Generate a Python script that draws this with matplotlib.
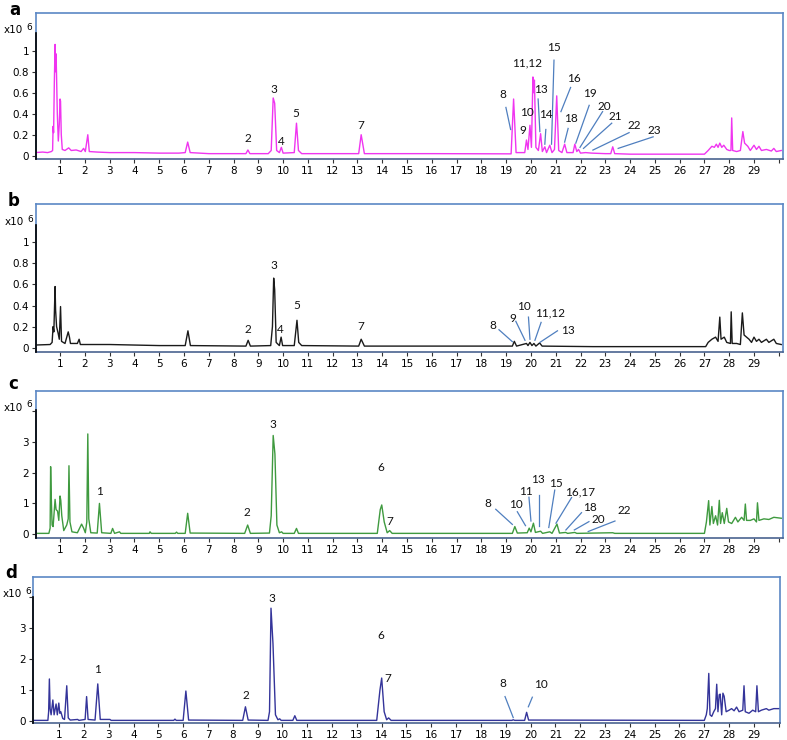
import numpy as np
import matplotlib.pyplot as plt

# retention time (min) and intensity (x10^6)
a_t = [0.0, 0.3, 0.5, 0.65, 0.70, 0.72, 0.74, 0.77, 0.80, 0.82, 0.84, 0.86, 0.89, 0.93, 0.97, 1.00, 1.02,
       1.05, 1.09, 1.2, 1.35, 1.45, 1.65, 1.85, 1.95, 2.02, 2.12, 2.18, 2.5, 3.0, 4.0, 5.0, 5.8, 6.05, 6.15,
       6.25, 7.0, 8.0, 8.5, 8.58, 8.66, 9.4, 9.52, 9.6, 9.66, 9.74, 9.85, 9.93, 10.0, 10.45, 10.54, 10.62,
       10.75, 12.0, 13.05, 13.15, 13.28, 16.0, 19.2, 19.3, 19.4, 19.75, 19.82, 19.88, 19.96, 20.02, 20.08,
       20.11, 20.14, 20.2, 20.3, 20.39, 20.46, 20.56, 20.63, 20.76, 20.85, 20.95, 21.04, 21.12, 21.25,
       21.36, 21.45, 21.7, 21.77, 21.85, 21.92, 22.0, 22.2, 22.45, 23.0, 23.22, 23.3, 23.38, 24.0, 27.0,
       27.15, 27.3, 27.4, 27.48, 27.55, 27.62, 27.7, 27.78, 27.9, 28.0, 28.07, 28.1, 28.14, 28.3, 28.45,
       28.55, 28.62, 28.75, 28.85, 29.0, 29.1, 29.2, 29.3, 29.5, 29.7, 29.8, 29.9, 30.1]
a_v = [0.03, 0.035, 0.03, 0.04, 0.05, 0.28, 0.22, 0.7, 1.06, 0.8, 0.97, 0.75, 0.4, 0.14, 0.3, 0.54, 0.52,
       0.2, 0.06, 0.05, 0.075, 0.05, 0.055, 0.04, 0.07, 0.04, 0.2, 0.04, 0.035, 0.03, 0.03, 0.025, 0.025,
       0.03, 0.13, 0.03, 0.02, 0.02, 0.02, 0.055, 0.02, 0.02, 0.05, 0.55, 0.5, 0.05, 0.03, 0.08, 0.025,
       0.03, 0.31, 0.05, 0.02, 0.02, 0.02, 0.2, 0.02, 0.02, 0.018, 0.54, 0.03, 0.03, 0.15, 0.06, 0.29,
       0.08, 0.75, 0.6, 0.72, 0.08, 0.05, 0.21, 0.04, 0.085, 0.03, 0.1, 0.03, 0.06, 0.57, 0.05, 0.03,
       0.11, 0.03, 0.03, 0.11, 0.04, 0.06, 0.025, 0.03, 0.025, 0.02, 0.02, 0.085, 0.02, 0.015, 0.015,
       0.05, 0.09, 0.08, 0.11, 0.08, 0.12, 0.08, 0.1, 0.06, 0.05, 0.05, 0.36, 0.05, 0.04, 0.05, 0.23,
       0.12, 0.09, 0.05, 0.1, 0.06, 0.09, 0.05, 0.06, 0.045, 0.07, 0.04, 0.05]

b_t = [0.0, 0.6, 0.68, 0.72, 0.75, 0.8, 0.82, 0.86, 0.92, 0.97, 1.02, 1.06, 1.2, 1.33, 1.38, 1.42, 1.7,
       1.77, 1.82, 3.0, 4.0, 5.0, 6.05, 6.16, 6.26, 8.5, 8.59, 8.68, 9.5, 9.57, 9.62, 9.66, 9.72, 9.85,
       9.92, 9.98, 10.45, 10.56, 10.63, 10.75, 13.05, 13.15, 13.28, 19.25, 19.33, 19.42, 19.82, 19.88,
       19.96, 20.04, 20.12, 20.2, 20.35, 20.45, 22.5, 27.05, 27.15, 27.3, 27.45, 27.55, 27.62, 27.67,
       27.8, 27.9, 28.05, 28.08, 28.12, 28.3, 28.45, 28.53, 28.6, 28.7, 28.8, 28.9, 29.0, 29.1, 29.2,
       29.3, 29.5, 29.6, 29.8, 29.9, 30.1]
b_v = [0.025, 0.03, 0.05, 0.2, 0.15, 0.58, 0.36, 0.2, 0.14, 0.08, 0.39, 0.06, 0.04, 0.15, 0.1, 0.04, 0.04,
       0.08, 0.03, 0.03, 0.025, 0.02, 0.02, 0.16, 0.02, 0.015, 0.07, 0.015, 0.02, 0.2, 0.66, 0.55, 0.05,
       0.02, 0.1, 0.02, 0.02, 0.26, 0.05, 0.02, 0.015, 0.08, 0.015, 0.015, 0.06, 0.015, 0.04, 0.02, 0.05,
       0.02, 0.04, 0.015, 0.045, 0.015, 0.01, 0.01, 0.05, 0.08, 0.1, 0.06, 0.29, 0.08, 0.1, 0.05, 0.04,
       0.34, 0.04, 0.04, 0.03, 0.33, 0.12, 0.1, 0.08, 0.05, 0.1, 0.06, 0.08, 0.05, 0.08, 0.05, 0.08, 0.04,
       0.03]

c_t = [0.0, 0.55, 0.6, 0.62, 0.65, 0.68, 0.72, 0.8, 0.84, 0.9, 0.95, 1.0, 1.03, 1.07, 1.15, 1.27, 1.33,
       1.36, 1.4, 1.48, 1.7, 1.87, 1.95, 2.02, 2.08, 2.12, 2.16, 2.24, 2.5, 2.59, 2.68, 3.05, 3.12, 3.2,
       3.4, 3.45, 4.6, 4.63, 4.68, 5.65, 5.7, 5.75, 6.05, 6.15, 6.25, 8.45, 8.57, 8.68, 9.45, 9.52, 9.6,
       9.67, 9.75, 9.85, 9.94, 10.0, 10.45, 10.54, 10.62, 13.8, 13.92, 13.98, 14.08, 14.2, 14.3, 14.4,
       19.25, 19.35, 19.45, 19.85, 19.93, 20.0, 20.1, 20.18, 20.39, 20.47, 20.76, 20.85, 21.05, 21.15,
       21.4, 21.48, 21.77, 21.85, 23.3, 23.38, 27.0, 27.08, 27.17, 27.22, 27.3, 27.36, 27.45, 27.53, 27.6,
       27.65, 27.72, 27.8, 27.9, 27.97, 28.1, 28.25, 28.35, 28.5, 28.6, 28.65, 28.7, 28.85, 29.0, 29.1,
       29.14, 29.2, 29.4, 29.6, 29.8, 30.1]
c_v = [0.03, 0.03, 0.2, 2.19, 1.1, 0.3, 0.25, 1.13, 0.8, 0.75, 0.45, 1.24, 1.1, 0.6, 0.12, 0.3, 0.5,
       2.22, 0.4, 0.08, 0.05, 0.33, 0.2, 0.05, 0.4, 3.25, 0.5, 0.05, 0.04, 1.0, 0.05, 0.03, 0.19, 0.03,
       0.08, 0.03, 0.03, 0.08, 0.03, 0.03, 0.07, 0.03, 0.03, 0.68, 0.04, 0.03, 0.3, 0.03, 0.04, 0.6, 3.2,
       2.6, 0.3, 0.05, 0.08, 0.03, 0.03, 0.19, 0.03, 0.03, 0.8, 0.95, 0.4, 0.05, 0.12, 0.03, 0.03, 0.25,
       0.04, 0.05, 0.2, 0.08, 0.36, 0.06, 0.1, 0.03, 0.08, 0.03, 0.33, 0.04, 0.06, 0.03, 0.06, 0.03, 0.05,
       0.03, 0.03, 0.4, 1.09, 0.3, 0.9, 0.35, 0.6, 0.3, 1.1, 0.35, 0.7, 0.35, 0.84, 0.4, 0.35, 0.55, 0.4,
       0.55, 0.45, 0.98, 0.45, 0.45, 0.5, 0.4, 1.02, 0.45, 0.5, 0.48, 0.55, 0.52]

d_t = [0.0, 0.55, 0.58, 0.61, 0.64, 0.68, 0.75, 0.8, 0.88, 0.93, 0.99, 1.03, 1.07, 1.15, 1.22, 1.31, 1.37,
       1.45, 1.75, 1.8, 2.05, 2.11, 2.17, 2.45, 2.56, 2.66, 3.05, 3.1, 5.62, 5.67, 5.72, 6.0, 6.11, 6.22,
       8.4, 8.51, 8.62, 9.42, 9.48, 9.54, 9.62, 9.72, 9.82, 9.89, 9.95, 10.42, 10.5, 10.58, 13.8, 13.93,
       14.0, 14.1, 14.2, 14.28, 14.38, 19.25, 19.3, 19.36, 19.76, 19.84, 19.92, 27.0, 27.08, 27.12, 27.18,
       27.23, 27.3, 27.38, 27.45, 27.5, 27.55, 27.6, 27.64, 27.7, 27.75, 27.8, 27.88, 28.0, 28.1, 28.2,
       28.3, 28.4, 28.55, 28.6, 28.65, 28.8, 28.95, 29.07, 29.12, 29.18, 29.3, 29.5, 29.6, 29.8, 30.1]
d_v = [0.02, 0.02, 0.3, 1.36, 0.4, 0.2, 0.68, 0.2, 0.55, 0.2, 0.58, 0.25, 0.3, 0.08, 0.05, 1.14, 0.1,
       0.03, 0.05, 0.02, 0.05, 0.79, 0.05, 0.03, 1.2, 0.05, 0.05, 0.02, 0.02, 0.06, 0.02, 0.02, 0.97, 0.03,
       0.02, 0.46, 0.03, 0.02, 0.3, 3.65, 2.5, 0.2, 0.04, 0.07, 0.02, 0.02, 0.17, 0.02, 0.02, 1.0, 1.39,
       0.3, 0.04, 0.1, 0.02, 0.02, 0.04, 0.02, 0.02, 0.28, 0.03, 0.02, 0.2, 0.4, 1.54, 0.2, 0.15, 0.3, 0.4,
       1.19, 0.3, 0.85, 0.87, 0.2, 0.9, 0.8, 0.3, 0.35, 0.4, 0.33, 0.45, 0.3, 0.35, 1.14, 0.3, 0.25, 0.35,
       0.3, 1.14, 0.3, 0.35, 0.4, 0.35, 0.4, 0.4]

# peak labels: (text, x, y)
a_labels = [("2", 8.57, 0.165), ("3", 9.63, 0.63), ("4", 9.94, 0.14), ("5", 10.5, 0.40), ("7", 13.15, 0.29),
            ("8", 18.88, 0.58), ("9", 19.69, 0.24), ("10", 19.83, 0.41), ("11,12", 19.83, 0.88),
            ("13", 20.4, 0.63), ("14", 20.59, 0.39), ("15", 20.94, 1.03), ("16", 21.75, 0.74),
            ("18", 21.62, 0.35), ("19", 22.38, 0.59), ("20", 22.96, 0.47), ("21", 23.4, 0.37),
            ("22", 24.17, 0.29), ("23", 24.98, 0.24)]
a_lines = [(18.99, 0.46, 19.18, 0.25), (20.29, 0.54, 20.36, 0.23), (20.6, 0.25, 20.56, 0.11),
           (20.93, 0.91, 20.83, 0.11), (21.6, 0.65, 21.21, 0.42), (21.5, 0.26, 21.36, 0.13),
           (22.35, 0.48, 21.81, 0.12), (22.89, 0.42, 21.98, 0.08), (23.26, 0.31, 22.12, 0.07),
           (23.96, 0.22, 22.5, 0.054), (24.93, 0.18, 23.52, 0.07)]

b_labels = [("2", 8.59, 0.17), ("3", 9.63, 0.78), ("4", 9.9, 0.17), ("5", 10.54, 0.40), ("7", 13.15, 0.2),
            ("8", 18.45, 0.21), ("9", 19.26, 0.28), ("10", 19.71, 0.39), ("11,12", 20.77, 0.33),
            ("13", 21.51, 0.16)]
b_lines = [(18.71, 0.17, 19.25, 0.057), (19.39, 0.25, 19.76, 0.07), (19.9, 0.29, 19.96, 0.08),
           (20.41, 0.24, 20.16, 0.07), (21.07, 0.16, 20.36, 0.05)]

c_labels = [("1", 2.59, 1.40), ("2", 8.53, 0.71), ("3", 9.58, 3.54), ("6", 13.95, 2.15), ("7", 14.3, 0.4),
            ("8", 18.24, 1.0), ("10", 19.38, 0.98), ("11", 19.78, 1.38), ("13", 20.29, 1.79),
            ("15", 20.99, 1.63), ("16,17", 21.98, 1.38), ("18", 22.38, 0.86), ("20", 22.71, 0.49),
            ("22", 23.76, 0.77)]
c_lines = [(18.58, 0.81, 19.25, 0.32), (19.45, 0.73, 19.78, 0.28), (19.92, 1.2, 20.0, 0.43),
           (20.32, 1.27, 20.32, 0.27), (20.96, 1.43, 20.72, 0.22), (21.64, 1.19, 21.01, 0.36),
           (22.04, 0.7, 21.41, 0.14), (22.34, 0.41, 21.75, 0.14), (23.39, 0.43, 22.31, 0.09)]

d_labels = [("1", 2.56, 1.67), ("2", 8.51, 0.84), ("3", 9.56, 3.97), ("6", 13.97, 2.78), ("7", 14.26, 1.39),
            ("8", 18.88, 1.2), ("10", 20.41, 1.19)]
d_lines = [(18.97, 0.79, 19.3, 0.11), (20.07, 0.77, 19.91, 0.46)]

frame_blue = '#5b87c5'
lead_blue = '#4f7fbf'

W, H = 787, 740
fig = plt.figure(figsize=(W / 100, H / 100), dpi=100)


def px_box(l, r, t, b):
    return [l / W, 1 - b / H, (r - l) / W, (b - t) / H]


def panel(box, t, v, color, ylim, yticks, ylabels, spine_top, xlim, labels, lines, letter, lpos, xpos):
    ax = fig.add_axes(px_box(*box))
    ax.plot(t, v, color=color, lw=1.0)
    ax.set_xlim(*xlim)
    ax.set_ylim(*ylim)
    for s in ax.spines.values():
        s.set_color(frame_blue)
        s.set_linewidth(1.2)
    ax.spines['bottom'].set_color('#4a6490')
    # black y axis line inside the blue frame
    ax.plot([xlim[0], xlim[0]], [ylim[0], spine_top], color='black', lw=1.2, clip_on=False, zorder=5)
    ax.set_xticks(range(1, 31))
    ax.set_xticklabels([str(i) for i in range(1, 30)] + [''])
    ax.set_yticks(yticks)
    ax.set_yticklabels(ylabels)
    ax.tick_params(axis='both', labelsize=7.5, length=3, width=0.8, pad=2, color='#333333')
    for tx, x, y in labels:
        ax.text(x, y, tx, ha='center', va='center', fontsize=8.5, family='Lato', color='#111111')
    for x1, y1, x2, y2 in lines:
        ax.plot([x1, x2], [y1, y2], color=lead_blue, lw=0.9)
    fig.text(lpos[0] / W, 1 - lpos[1] / H, letter, fontsize=12, fontweight='bold', ha='center', va='center')
    fig.text(xpos[0] / W, 1 - xpos[1] / H, 'x10', fontsize=7.5, ha='left', va='center')
    fig.text((xpos[0] + 22) / W, 1 - (xpos[1] - 3) / H, '6', fontsize=6.5, ha='left', va='center')
    return ax


small_ticks = [0, 0.2, 0.4, 0.6, 0.8, 1.0]
small_labels = ['0', '0.2', '0.4', '0.6', '0.8', '1']
big_ticks = [0, 1, 2, 3, 4]
big_labels = ['0', '1', '2', '3', '']

panel((36, 783, 13, 159), a_t, a_v, '#f035f0', (-0.031, 1.359), small_ticks, small_labels, 1.17,
      (0.03, 30.17), a_labels, a_lines, 'a', (15, 10), (4, 30))
panel((36, 783, 204, 352), b_t, b_v, '#1a1a1a', (-0.041, 1.363), small_ticks, small_labels, 1.16,
      (0.03, 30.17), b_labels, b_lines, 'b', (14, 201), (5, 222))
panel((36, 783, 391, 538), c_t, c_v, '#3f9a3f', (-0.12, 4.64), big_ticks, big_labels, 4.03,
      (0.03, 30.17), c_labels, c_lines, 'c', (13, 384), (4, 408))
panel((33, 780, 577, 723), d_t, d_v, '#34349a', (-0.065, 4.66), big_ticks, big_labels, 4.02,
      (-0.05, 30.05), d_labels, d_lines, 'd', (11, 573), (3, 594))

fig.savefig('out.png', dpi=100)
